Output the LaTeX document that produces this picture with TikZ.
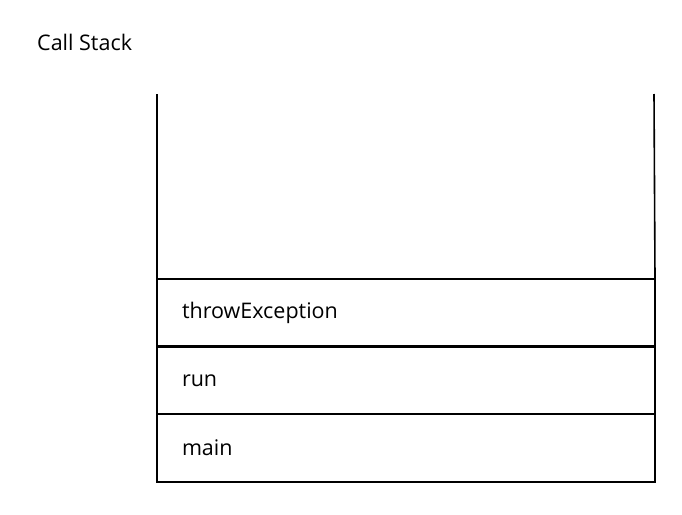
\documentclass[tikz,border=0pt]{standalone}
\usepackage{fontspec}
\setmainfont{Open Sans}
\usetikzlibrary{positioning}
\tikzset{
  stackframe/.style={draw, line width=2.3pt, outer sep=0pt, inner xsep=25pt,
    text width=448pt, minimum height=67.7pt, align=left,
    font=\fontsize{21.5}{25}\selectfont}
}
\begin{document}
\begin{tikzpicture}[x=1pt,y=-1pt]
\useasboundingbox (0,0) rectangle (682,514);
\node[anchor=west, inner sep=0pt, font=\fontsize{21.5}{25}\selectfont] (title) at (37,42) {Call Stack};
% stack frames, bottom first
\node[stackframe, anchor=south west] (main) at (157,482) {main};
\node[stackframe, above=0pt of main] (run) {run};
\node[stackframe, above=0pt of run] (throw) {throwException};
% open top of the stack
\coordinate (topL) at (157,94);
\coordinate (topR) at (654,94);
\draw[line width=2.3pt] (topL) -- (main.south west);
\draw[line width=1.6pt] (topR) -- (throw.north east);
\end{tikzpicture}
\end{document}
